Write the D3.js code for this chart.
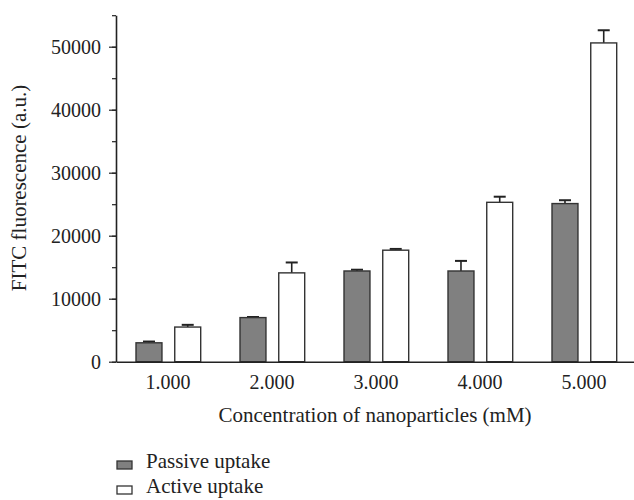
<!DOCTYPE html>
<html><head><meta charset="utf-8">
<script src="https://cdn.jsdelivr.net/npm/d3@7/dist/d3.min.js"></script>
<style>body{margin:0;background:#fff}svg text{font-family:"Liberation Serif","DejaVu Serif",serif;fill:#222}</style>
</head><body><svg id="c" width="634" height="500"></svg>
<script>
const categories = ["1.000","2.000","3.000","4.000","5.000"];
const seriesNames = ["Passive uptake","Active uptake"];
const passive = [3000, 7000, 14400, 14400, 25100];
const passiveErr = [200, 100, 200, 1600, 530];
const active = [5500, 14100, 17700, 25300, 50600];
const activeErr = [350, 1650, 200, 890, 2010];
const yTicks = [0,10000,20000,30000,40000,50000];
const yMinorTicks = d3.range(0, 55001, 5000);

const svg = d3.select("#c");
const fsTick = 20, fs = 21;
const x0 = d3.scaleBand().domain(categories).range([116, 636]).padding(0);
const x1 = d3.scaleBand().domain(seriesNames).range([20, 84.7]).paddingInner(0.33).paddingOuter(0);
const y = d3.scaleLinear().domain([0, 55000]).range([361.7, 15.2]);
const colors = {"Passive uptake":"#808080","Active uptake":"#ffffff"};

const data = categories.map((c,i)=>[
  {cat:c, s:seriesNames[0], v:passive[i], e:passiveErr[i]},
  {cat:c, s:seriesNames[1], v:active[i], e:activeErr[i]}
]).flat();

const eg = svg.append("g").attr("stroke","#222").attr("stroke-width",1.6);
data.forEach(d=>{
  const cx = x0(d.cat) + x1(d.s) + x1.bandwidth()/2;
  eg.append("line").attr("x1",cx).attr("x2",cx).attr("y1",y(d.v)).attr("y2",y(d.v+d.e));
  eg.append("line").attr("x1",cx-6).attr("x2",cx+6).attr("y1",y(d.v+d.e)).attr("y2",y(d.v+d.e)).attr("stroke-width",2);
});

svg.append("g").selectAll("rect").data(data).join("rect")
  .attr("x", d=>x0(d.cat)+x1(d.s))
  .attr("y", d=>y(d.v))
  .attr("width", x1.bandwidth())
  .attr("height", d=>y(0)-y(d.v))
  .attr("fill", d=>colors[d.s])
  .attr("stroke","#333").attr("stroke-width",1.4);

svg.append("g").attr("transform","translate(116,0)")
  .call(d3.axisLeft(y).tickValues(yMinorTicks).tickSize(4).tickFormat(""))
  .call(g=>g.select(".domain").remove())
  .selectAll("line").attr("stroke","#222").attr("stroke-width",1.2);
const ya = svg.append("g").attr("transform","translate(116,0)")
  .call(d3.axisLeft(y).tickValues(yTicks).tickSize(7).tickPadding(8).tickSizeOuter(0).tickFormat(d3.format("d")));
ya.select(".domain").attr("stroke","#222").attr("stroke-width",1.6);
ya.selectAll("line").attr("stroke","#222").attr("stroke-width",1.2);
ya.selectAll("text").attr("font-size",fsTick).style("font-family",'"Liberation Serif",serif').attr("fill","#222");

const xa = svg.append("g").attr("transform",`translate(0,${y(0)})`)
  .call(d3.axisBottom(x0).tickSize(0).tickPadding(13).tickSizeOuter(0));
xa.select(".domain").attr("stroke","#222").attr("stroke-width",1.6);
xa.selectAll("text").attr("font-size",fsTick).style("font-family",'"Liberation Serif",serif').attr("fill","#222");

svg.append("text").attr("x",375).attr("y",422).attr("text-anchor","middle").attr("font-size",fs)
  .text("Concentration of nanoparticles (mM)");
svg.append("text").attr("transform","translate(26,188) rotate(-90)").attr("text-anchor","middle").attr("font-size",fs)
  .text("FITC fluorescence (a.u.)");

const lg = svg.append("g");
seriesNames.forEach((s,i)=>{
  const yy = 468 + i*25;
  lg.append("rect").attr("x",117).attr("y",yy-7).attr("width",15).attr("height",8)
    .attr("fill",colors[s]).attr("stroke","#333").attr("stroke-width",1.3);
  lg.append("text").attr("x",146).attr("y",yy).attr("font-size",fs).text(s);
});
</script></body></html>
